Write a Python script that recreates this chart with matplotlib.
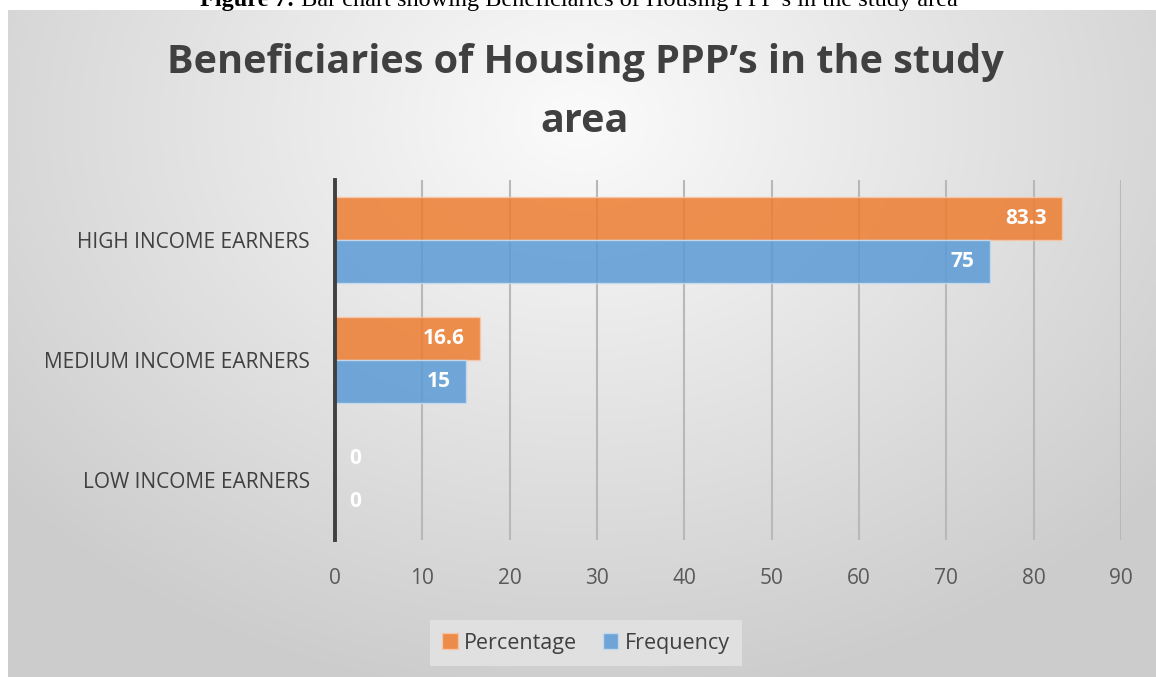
import numpy as np
import matplotlib.pyplot as plt
from matplotlib.patches import Patch

# data
categories = ['LOW INCOME EARNERS', 'MEDIUM INCOME EARNERS', 'HIGH INCOME EARNERS']
percentage = [0, 16.6, 83.3]
frequency = [0, 15, 75]
percentage_labels = ['0', '16.6', '83.3']
frequency_labels = ['0', '15', '75']
x_ticks = list(range(0, 100, 10))

ORANGE = '#ED7D31'
BLUE = '#5B9BD5'
TEXT = '#404040'
FONT = ['Open Sans', 'DejaVu Sans']
SERIF = ['Liberation Serif', 'DejaVu Serif']

plt.rcParams['font.family'] = FONT

W, H = 1156, 677
fig = plt.figure(figsize=(W / 100, H / 100), dpi=100)
fig.patch.set_facecolor('white')

# gradient background of the chart area
bg = fig.add_axes([0, 0, 1, 1], zorder=-10)
yy, xx = np.mgrid[0:H, 0:W]
r = np.sqrt(((xx - 580) / 900.0) ** 2 + ((yy - 120) / 700.0) ** 2)
shade = np.clip(0.985 - 0.22 * r, 0.80, 1.0)
img = np.dstack([shade, shade, shade])
img[:10, :, :] = 1.0
img[:, :8, :] = 1.0
bg.imshow(img, extent=[0, W, H, 0], aspect='auto', interpolation='bilinear')
bg.set_xlim(0, W)
bg.set_ylim(H, 0)
bg.axis('off')

# cropped caption at the very top (bold lead-in + normal text)
cap_bold = 'Figure 7:'
cap_rest = ' Bar chart showing Beneficiaries of Housing PPP’s in the study area'
renderer = fig.canvas.get_renderer()
t1 = bg.text(0, 6, cap_bold, ha='left', va='baseline', fontsize=17.5, fontweight='bold',
             family=SERIF, color='black')
t2 = bg.text(0, 6, cap_rest, ha='left', va='baseline', fontsize=17.5, family=SERIF, color='black')
w1 = t1.get_window_extent(renderer).width
w2 = t2.get_window_extent(renderer).width
x0 = 579 - (w1 + w2) / 2
t1.set_x(x0)
t2.set_x(x0 + w1)

bg.text(585, 63, 'Beneficiaries of Housing PPP’s in the study', ha='center', va='center',
        fontsize=28.5, fontweight='bold', color=TEXT)
bg.text(585, 121, 'area', ha='center', va='center', fontsize=28.5, fontweight='bold', color=TEXT)

ax = fig.add_axes([335 / W, 1 - 540 / H, 786 / W, 360 / H])
ax.set_facecolor('none')

y = np.arange(len(categories))
h = 0.36
bars_p = ax.barh(y + h / 2, percentage, height=h, color=ORANGE, alpha=0.85,
                 edgecolor='#f8c8a8', linewidth=1, zorder=3)
bars_f = ax.barh(y - h / 2, frequency, height=h, color=BLUE, alpha=0.85,
                 edgecolor='#c8dcf0', linewidth=1, zorder=3)

for bars, labels in ((bars_p, percentage_labels), (bars_f, frequency_labels)):
    for b, lab in zip(bars, labels):
        w = b.get_width()
        cy = b.get_y() + b.get_height() / 2
        if w > 0:
            ax.annotate(lab, (w, cy), xytext=(-11, 0), textcoords='offset points',
                        ha='right', va='center', color='white', fontsize=15, fontweight='bold', zorder=5)
        else:
            ax.annotate(lab, (w, cy), xytext=(10, 0), textcoords='offset points',
                        ha='left', va='center', color='white', fontsize=15, fontweight='bold', zorder=5)

ax.set_xlim(0, 90)
ax.set_ylim(-0.5, 2.5)
ax.set_xticks(x_ticks)
ax.set_yticks(y)
ax.set_yticklabels(categories)
ax.grid(axis='x', color='#b8b8b8', linewidth=1.5, zorder=0)
ax.set_axisbelow(True)
for s in ('top', 'right', 'bottom'):
    ax.spines[s].set_visible(False)
ax.spines['left'].set_color(TEXT)
ax.spines['left'].set_linewidth(2.8)
ax.spines['left'].set_zorder(4)
ax.tick_params(axis='x', length=0, pad=20, labelsize=15, labelcolor='#595959')
ax.tick_params(axis='y', length=0, pad=18, labelsize=15, labelcolor=TEXT)

handles = [Patch(facecolor=ORANGE, alpha=0.85, edgecolor='#f8c8a8', label='Percentage'),
           Patch(facecolor=BLUE, alpha=0.85, edgecolor='#c8dcf0', label='Frequency')]
leg = fig.legend(handles=handles, loc='center', bbox_to_anchor=(586 / W, 1 - 643 / H), ncol=2,
                 frameon=True, fancybox=False, fontsize=15.5, handlelength=0.7, handleheight=0.7,
                 handletextpad=0.3, columnspacing=1.2, borderpad=0.6)
leg.get_frame().set_facecolor('#e0e0e0')
leg.get_frame().set_edgecolor('none')
leg.get_frame().set_alpha(1)
for t in leg.get_texts():
    t.set_color(TEXT)

fig.savefig('out.png', dpi=100)
